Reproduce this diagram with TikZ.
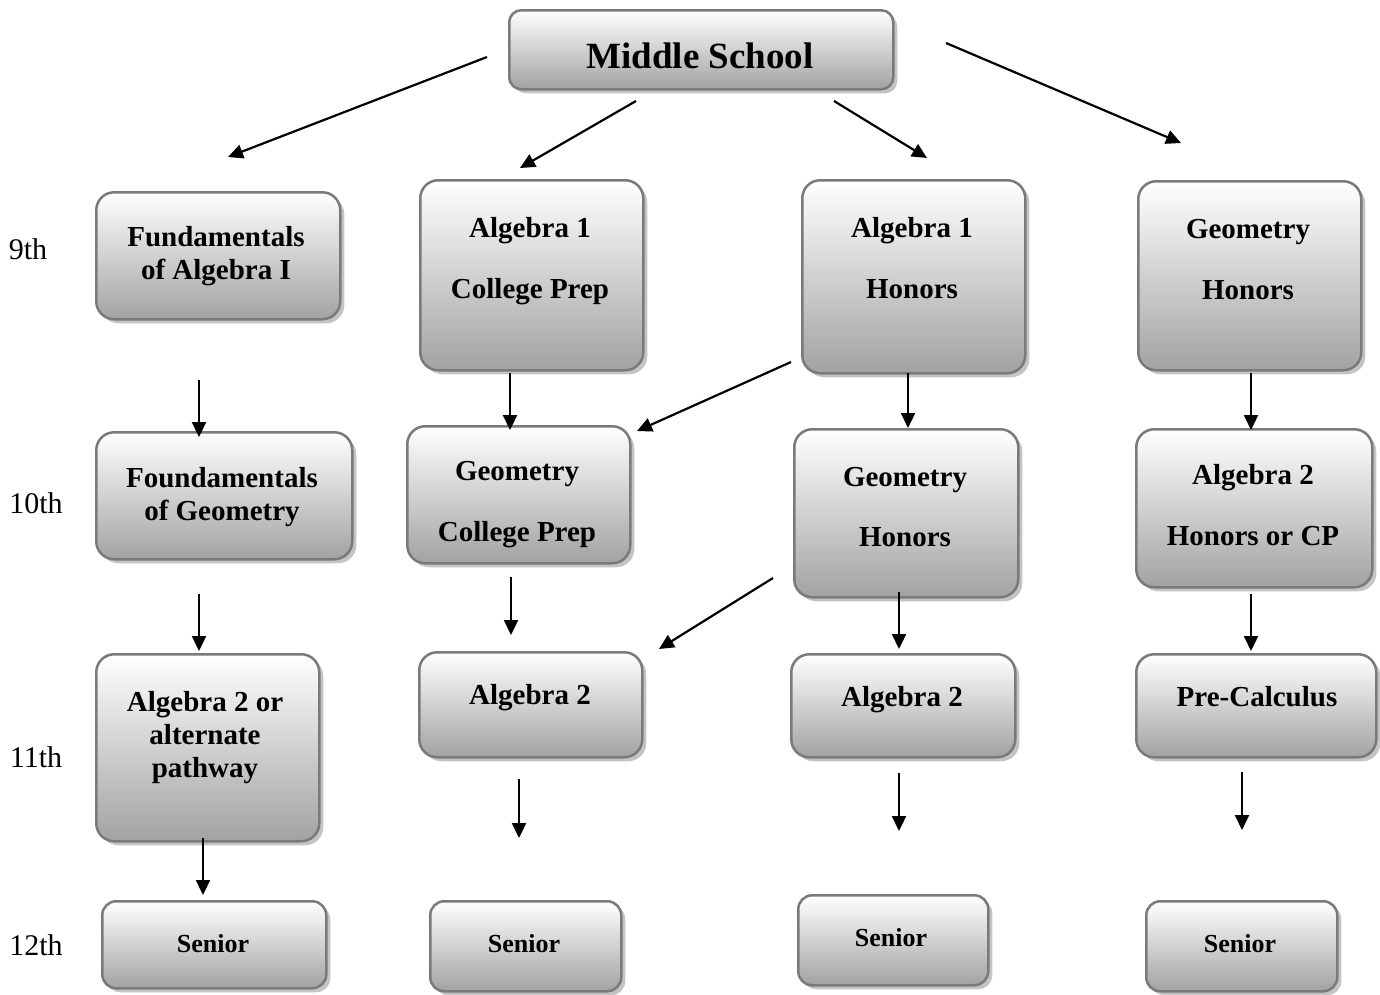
\documentclass[tikz,border=0pt]{standalone}
\usepackage{fontspec}
\setmainfont{Liberation Serif}
\usetikzlibrary{arrows.meta,shadows}
\definecolor{bordergray}{HTML}{7A7A7A}
\definecolor{boxbottom}{HTML}{A2A2A2}
\definecolor{shadowgray}{HTML}{C4C4C4}
\newcommand{\tb}[1]{\begin{tabular}{@{}c@{}}#1\end{tabular}}
\tikzset{
  box/.style={draw=bordergray, line width=2.5pt, rounded corners=18pt,
    top color=white, bottom color=boxbottom, anchor=north west, inner sep=0pt,
    drop shadow={shadow xshift=4pt, shadow yshift=-4pt, fill=shadowgray, opacity=1}},
  txt/.style={font=\fontsize{29}{33}\selectfont\bfseries, align=center, inner sep=0pt},
  sen/.style={font=\fontsize{26}{30}\selectfont\bfseries, inner sep=0pt},
  grade/.style={font=\fontsize{30}{34}\selectfont, inner sep=0pt},
  arr/.style={line width=2.2pt, -{Triangle[length=15pt,width=14pt]}}
}
\begin{document}
\begin{tikzpicture}[x=1pt,y=-1pt]
\useasboundingbox (0,0) rectangle (1380,994);
% boxes
\node[box, minimum width=384pt, minimum height=79pt, rounded corners=12pt] (ms) at (508,9) {};
\node[box, minimum width=244pt, minimum height=127pt] (fa) at (95,191) {};
\node[box, minimum width=223pt, minimum height=190pt] (acp) at (419,179) {};
\node[box, minimum width=223pt, minimum height=193pt] (ah) at (801,179) {};
\node[box, minimum width=223pt, minimum height=189pt] (gh9) at (1137,180) {};
\node[box, minimum width=256pt, minimum height=127pt] (fg) at (95,431) {};
\node[box, minimum width=223pt, minimum height=137pt] (gcp) at (406,425) {};
\node[box, minimum width=224pt, minimum height=168pt] (gh10) at (793,428) {};
\node[box, minimum width=236pt, minimum height=158pt] (a2h) at (1135,428) {};
\node[box, minimum width=223pt, minimum height=187pt] (a2alt) at (95,653) {};
\node[box, minimum width=223pt, minimum height=105pt] (a2b) at (418,651) {};
\node[box, minimum width=224pt, minimum height=103pt] (a2c) at (790,653) {};
\node[box, minimum width=240pt, minimum height=103pt] (pc) at (1135,653) {};
\node[box, minimum width=224pt, minimum height=87pt, rounded corners=14pt] (s1) at (101,900) {};
\node[box, minimum width=191pt, minimum height=90pt, rounded corners=14pt] (s2) at (429,900) {};
\node[box, minimum width=190pt, minimum height=90pt, rounded corners=14pt] (s3) at (797,894) {};
\node[box, minimum width=191pt, minimum height=90pt, rounded corners=14pt] (s4) at (1145,900) {};
% texts
\node[font=\fontsize{37}{40}\selectfont\bfseries, inner sep=0pt] (tms) at (700,60) {\tb{Middle School}};
\node[txt] (tfa) at (216,256) {\tb{Fundamentals\\of Algebra I}};
\node[txt] (tacp) at (530,261) {\tb{Algebra 1\\[28pt]College Prep}};
\node[txt] (tah) at (912,261) {\tb{Algebra 1\\[28pt]Honors}};
\node[txt] (tgh9) at (1248,262) {\tb{Geometry\\[28pt]Honors}};
\node[txt] (tfg) at (222,497) {\tb{Foundamentals\\of Geometry}};
\node[txt] (tgcp) at (517,504) {\tb{Geometry\\[28pt]College Prep}};
\node[txt] (tgh10) at (905,510) {\tb{Geometry\\[27pt]Honors}};
\node[txt] (ta2h) at (1253,508) {\tb{Algebra 2\\[28pt]Honors or CP}};
\node[txt] (ta2alt) at (205,738) {\tb{Algebra 2 or\\alternate\\pathway}};
\node[txt] (ta2b) at (530,698) {\tb{Algebra 2}};
\node[txt] (ta2c) at (902,700) {\tb{Algebra 2}};
\node[txt] (tpc) at (1257,700) {\tb{Pre-Calculus}};
\node[sen] (ts1) at (213,946) {\tb{Senior}};
\node[sen] (ts2) at (524,946) {\tb{Senior}};
\node[sen] (ts3) at (891,940) {\tb{Senior}};
\node[sen] (ts4) at (1240,946) {\tb{Senior}};
% grade labels
\node[grade] (g9) at (28,253) {\tb{9th}};
\node[grade] (g10) at (36,507) {\tb{10th}};
\node[grade] (g11) at (36,761) {\tb{11th}};
\node[grade] (g12) at (36,949) {\tb{12th}};
% arrow end points
\coordinate (a1s) at (487,57);   \coordinate (a1e) at (228,157);
\coordinate (a2s) at (636,101);  \coordinate (a2e) at (520,168);
\coordinate (a3s) at (834,101);  \coordinate (a3e) at (927,158);
\coordinate (a4s) at (946,43);   \coordinate (a4e) at (1181,143);
\coordinate (b1s) at (199,380);  \coordinate (b1e) at (199,437);
\coordinate (b2s) at (510,373);  \coordinate (b2e) at (510,430);
\coordinate (b3s) at (791,362);  \coordinate (b3e) at (637,431);
\coordinate (b4s) at (908,373);  \coordinate (b4e) at (908,428);
\coordinate (b5s) at (1251,373); \coordinate (b5e) at (1251,430);
\coordinate (c1s) at (199,594);  \coordinate (c1e) at (199,651);
\coordinate (c2s) at (511,577);  \coordinate (c2e) at (511,635);
\coordinate (c3s) at (773,578);  \coordinate (c3e) at (659,649);
\coordinate (c4s) at (899,592);  \coordinate (c4e) at (899,649);
\coordinate (c5s) at (1251,594); \coordinate (c5e) at (1251,651);
\coordinate (d1s) at (203,838);  \coordinate (d1e) at (203,895);
\coordinate (d2s) at (519,779);  \coordinate (d2e) at (519,838);
\coordinate (d3s) at (899,773);  \coordinate (d3e) at (899,831);
\coordinate (d4s) at (1242,772); \coordinate (d4e) at (1242,830);
\foreach \p in {a1,a2,a3,a4,b1,b2,b3,b4,b5,c1,c2,c3,c4,c5,d1,d2,d3,d4}
  \draw[arr] (\p s) -- (\p e);
\end{tikzpicture}
\end{document}
